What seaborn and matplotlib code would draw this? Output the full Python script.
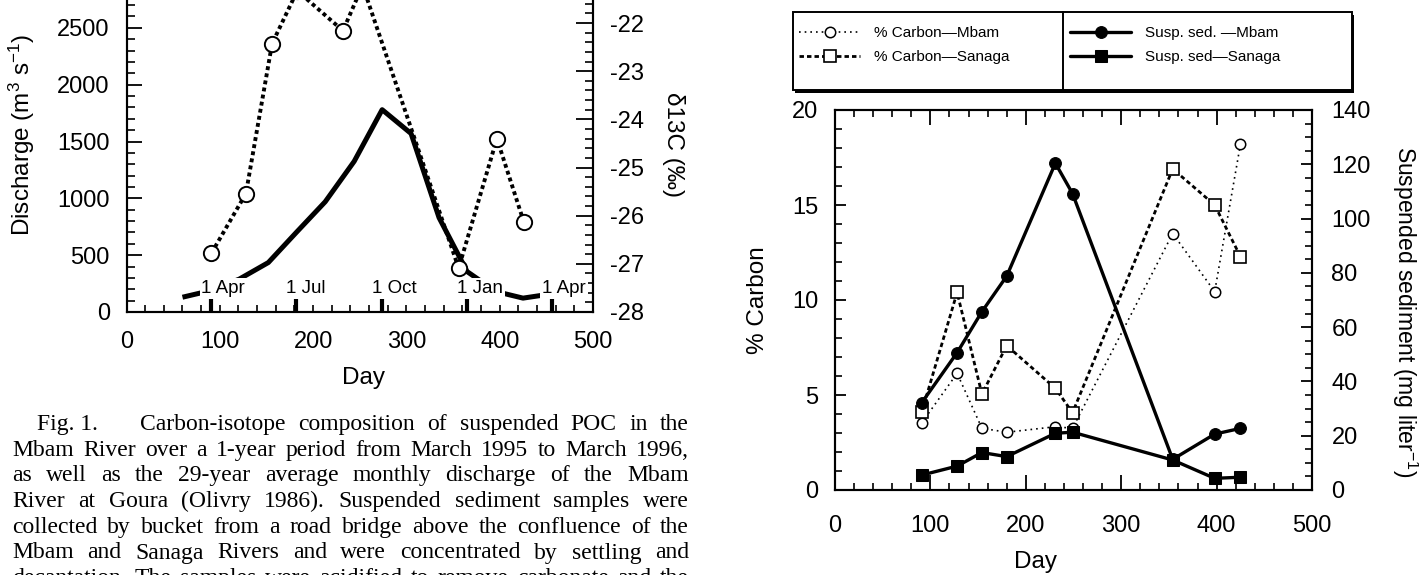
import matplotlib
matplotlib.use("Agg")
import matplotlib.pyplot as plt
import seaborn as sns
from matplotlib.ticker import MultipleLocator
from matplotlib.lines import Line2D
from matplotlib.patches import Rectangle

# ---------------- data ----------------
# Fig. 1 (left): 29-yr mean monthly discharge of the Mbam and d13C of POC
q_days = [60, 91, 121, 152, 182, 213, 244, 274, 305, 335, 365, 396, 425, 456]
q_values = [130, 190, 290, 435, 700, 970, 1325, 1780, 1570, 830, 356, 180, 122, 160]
d13c_days = [91, 128, 156, 183, 232, 253, 356, 397, 426]
d13c_values = [-26.78, -25.54, -22.43, -21.33, -22.16, -21.22, -27.09, -24.40, -26.14]
month_days = [91, 182, 274, 365, 456]
month_labels = ["1 Apr", "1 Jul", "1 Oct", "1 Jan", "1 Apr"]

# Fig. 2 (right): % carbon and suspended sediment, Mbam and Sanaga
sample_days = [91, 128, 154, 180, 231, 249, 354, 398, 425]
carbon_mbam = [3.54, 6.14, 3.25, 3.04, 3.33, 3.25, 13.5, 10.44, 18.2]
carbon_sanaga = [4.12, 10.4, 5.05, 7.6, 5.35, 4.07, 16.9, 15.0, 12.28]
sed_mbam = [32.2, 50.6, 65.7, 78.8, 120.4, 109.2, 11.3, 20.6, 22.7]
sed_sanaga = [5.5, 8.8, 13.8, 12.3, 20.9, 21.3, 11.05, 4.3, 4.7]
legend_labels = ["% Carbon\u2014Mbam", "% Carbon\u2014Sanaga",
                 "Susp. sed. \u2014Mbam", "Susp. sed\u2014Sanaga"]

caption_lines = [
    "Fig. 1.|Carbon-isotope composition of suspended POC in the",
    "Mbam River over a 1-year period from March 1995 to March 1996,",
    "as well as the 29-year average monthly discharge of the Mbam",
    "River at Goura (Olivry 1986). Suspended sediment samples were",
    "collected by bucket from a road bridge above the confluence of the",
    "Mbam and Sanaga Rivers and were concentrated by settling and",
    "decantation. The samples were acidified to remove carbonate and the",
]

# ---------------- style ----------------
W, H = 1419, 575
sns.set_theme(style="ticks")
plt.rcParams["font.family"] = ["Liberation Sans", "DejaVu Sans"]
plt.rcParams["axes.unicode_minus"] = False
plt.rcParams["mathtext.fontset"] = "custom"
plt.rcParams["mathtext.rm"] = "Liberation Sans"
plt.rcParams["mathtext.it"] = "Liberation Sans:italic"
plt.rcParams["axes.edgecolor"] = "black"
plt.rcParams["axes.linewidth"] = 1.5
plt.rcParams["xtick.color"] = "black"
plt.rcParams["ytick.color"] = "black"
plt.rcParams["text.color"] = "black"
plt.rcParams["axes.labelcolor"] = "black"

fig = plt.figure(figsize=(W / 100, H / 100), dpi=100)
fig.patch.set_facecolor("white")


def px_rect(x0, y_top, x1, y_bot):
    return [x0 / W, 1 - y_bot / H, (x1 - x0) / W, (y_bot - y_top) / H]


def ax_coords(rect_px, px, py):
    x0, yt, x1, yb = rect_px
    return (px - x0) / (x1 - x0), (yb - py) / (yb - yt)


TICK_FS = 17
LABEL_FS = 17.5

# ---------------- left chart ----------------
L_RECT = (126.5, -29, 593, 312)
ax1 = fig.add_axes(px_rect(*L_RECT))
ax1.set_facecolor("white")
sns.lineplot(x=q_days, y=q_values, ax=ax1, color="black", lw=3.6,
             solid_joinstyle="round", solid_capstyle="butt", zorder=2)
ax1.set_xlim(0, 500)
ax1.set_ylim(0, 3000)
ax1.xaxis.set_major_locator(MultipleLocator(100))
ax1.xaxis.set_minor_locator(MultipleLocator(20))
ax1.yaxis.set_major_locator(MultipleLocator(500))
ax1.yaxis.set_minor_locator(MultipleLocator(100))
ax1.tick_params(axis="x", which="both", direction="in", length=5, width=1.2,
                top=False, labelsize=TICK_FS, pad=14)
ax1.tick_params(axis="y", which="major", direction="in", length=11, width=1.3,
                right=False, labelsize=TICK_FS, pad=12)
ax1.tick_params(axis="y", which="minor", direction="in", length=6, width=1.2, right=False)
ax1.spines["top"].set_visible(False)
ax1.set_xlabel("Day", fontsize=LABEL_FS, va="center")
ax1.xaxis.set_label_coords(*ax_coords(L_RECT, 363, 378))
ax1.set_ylabel("Discharge (m$^{3}$ s$^{-1}$)", fontsize=LABEL_FS, va="center")
ax1.yaxis.set_label_coords(*ax_coords(L_RECT, 22, 135))

sec = ax1.secondary_xaxis("bottom")
sec.set_xticks(month_days)
sec.tick_params(direction="in", length=12, width=3, labelbottom=False)
sec.spines["bottom"].set_visible(False)

ax1b = ax1.twinx()
sns.lineplot(x=d13c_days, y=d13c_values, ax=ax1b, color="black", lw=2.8,
             linestyle=(0, (1, 0.85)), dash_capstyle="butt",
             marker="o", markersize=11, markerfacecolor="white",
             markeredgecolor="black", markeredgewidth=1.4, zorder=3)
ax1b.set_ylim(-28, -20.92)
ax1b.yaxis.set_major_locator(MultipleLocator(1))
ax1b.yaxis.set_minor_locator(MultipleLocator(0.2))
ax1b.tick_params(axis="y", which="major", direction="in", length=12, width=1.3,
                 labelsize=TICK_FS, pad=12)
ax1b.tick_params(axis="y", which="minor", direction="in", length=6, width=1.2)
ax1b.spines["top"].set_visible(False)
ax1b.set_ylabel("\u03b413C (\u2030)", fontsize=LABEL_FS, rotation=270, va="center")
ax1b.yaxis.set_label_coords(*ax_coords(L_RECT, 673, 145))

for d, lab in zip(month_days, month_labels):
    ax1b.annotate(lab, xy=(d, 0), xycoords=("data", "axes fraction"),
                  xytext=(-10, 19), textcoords="offset pixels",
                  ha="left", va="baseline", fontsize=13.5, zorder=6,
                  bbox=dict(boxstyle="square,pad=0.1", fc="white", ec="none"))

# ---------------- right chart ----------------
R_RECT = (835, 110, 1312, 490)
ax2 = fig.add_axes(px_rect(*R_RECT))
ax2.set_facecolor("white")
sns.lineplot(x=sample_days, y=carbon_mbam, ax=ax2, color="black", lw=1.2,
             linestyle=(0, (1, 2.4)), marker="o", markersize=7.5,
             markerfacecolor="white", markeredgecolor="black",
             markeredgewidth=1.1, zorder=3)
sns.lineplot(x=sample_days, y=carbon_sanaga, ax=ax2, color="black", lw=2.0,
             linestyle=(0, (1.6, 1.1)), marker="s", markersize=8.5,
             markerfacecolor="white", markeredgecolor="black",
             markeredgewidth=1.2, zorder=3)
ax2.set_xlim(0, 500)
ax2.set_ylim(0, 20)
ax2.xaxis.set_major_locator(MultipleLocator(100))
ax2.xaxis.set_minor_locator(MultipleLocator(20))
ax2.yaxis.set_major_locator(MultipleLocator(5))
ax2.yaxis.set_minor_locator(MultipleLocator(1))
ax2.tick_params(axis="x", which="major", direction="in", length=11, width=1.3,
                top=True, labelsize=TICK_FS, pad=18)
ax2.tick_params(axis="x", which="minor", direction="in", length=5, width=1.2, top=True)
ax2.tick_params(axis="y", which="major", direction="in", length=8, width=1.3,
                right=False, labelsize=TICK_FS, pad=12)
ax2.tick_params(axis="y", which="minor", direction="in", length=5, width=1.2, right=False)
ax2.set_xlabel("Day", fontsize=LABEL_FS, va="center")
ax2.xaxis.set_label_coords(*ax_coords(R_RECT, 1035, 562))
ax2.set_ylabel("% Carbon", fontsize=LABEL_FS, va="center")
ax2.yaxis.set_label_coords(*ax_coords(R_RECT, 758, 300))

ax2b = ax2.twinx()
sns.lineplot(x=sample_days, y=sed_mbam, ax=ax2b, color="black", lw=2.4,
             marker="o", markersize=8.5, markerfacecolor="black",
             markeredgecolor="black", zorder=4)
sns.lineplot(x=sample_days, y=sed_sanaga, ax=ax2b, color="black", lw=2.4,
             marker="s", markersize=8.5, markerfacecolor="black",
             markeredgecolor="black", zorder=4)
ax2b.set_ylim(0, 140)
ax2b.yaxis.set_major_locator(MultipleLocator(20))
ax2b.yaxis.set_minor_locator(MultipleLocator(5))
ax2b.tick_params(axis="y", which="major", direction="in", length=8, width=1.3,
                 labelsize=TICK_FS, pad=14)
ax2b.tick_params(axis="y", which="minor", direction="in", length=5, width=1.2)
ax2b.set_ylabel("Suspended sediment (mg liter$^{-1}$)", fontsize=16.5,
                rotation=270, va="center")
ax2b.yaxis.set_label_coords(*ax_coords(R_RECT, 1405, 312))

# ---------------- legend box ----------------
bx0, by0, bx1, by1 = 793, 12, 1352, 90
shadow = Rectangle(((bx0 + 2) / W, 1 - (by1 + 3) / H),
                   (bx1 - bx0) / W, (by1 - by0) / H, transform=fig.transFigure,
                   fc="black", ec="black", lw=0, zorder=1)
fig.patches.append(shadow)
box = Rectangle((bx0 / W, 1 - by1 / H), (bx1 - bx0) / W, (by1 - by0) / H,
                transform=fig.transFigure, fc="white", ec="black", lw=1.4, zorder=2)
fig.patches.append(box)
fig.lines.append(Line2D([1063 / W, 1063 / W], [1 - by0 / H, 1 - by1 / H],
                        transform=fig.transFigure, color="black", lw=1.4, zorder=3))

handles = [ax2.lines[0], ax2.lines[1], ax2b.lines[0], ax2b.lines[1]]
for hs, labs, x in ((handles[:2], legend_labels[:2], 799),
                    (handles[2:], legend_labels[2:], 1070)):
    leg = fig.legend(hs, labs, loc="upper left",
                     bbox_to_anchor=(x / W, 1 - 26 / H), frameon=False,
                     fontsize=11, handlelength=4.0, handletextpad=0.9,
                     labelspacing=0.68, borderpad=0, borderaxespad=0,
                     numpoints=1)
    leg.set_zorder(5)

# ---------------- caption (justified) ----------------
renderer = fig.canvas.get_renderer()
CAP_FS = 17
left_px, right_px = 12, 689
base0, step = 430, 25.7
for i, line in enumerate(caption_lines):
    y = 1 - (base0 + i * step) / H
    if "|" in line:
        head, rest = line.split("|")
        tokens = [head] + rest.split(" ")
        start, extra = 37, 30
    else:
        tokens = line.split(" ")
        start, extra = left_px, 0
    texts = [fig.text(0, y, tok, fontsize=CAP_FS, family="Liberation Serif",
                      ha="left", va="baseline") for tok in tokens]
    widths = [t.get_window_extent(renderer).width for t in texts]
    gap = (right_px - start - sum(widths) - extra) / (len(tokens) - 1)
    x = start
    for j, t in enumerate(texts):
        t.set_x(x / W)
        x += widths[j] + gap + (extra if j == 0 else 0)

fig.savefig("out.png", dpi=100, facecolor="white")
